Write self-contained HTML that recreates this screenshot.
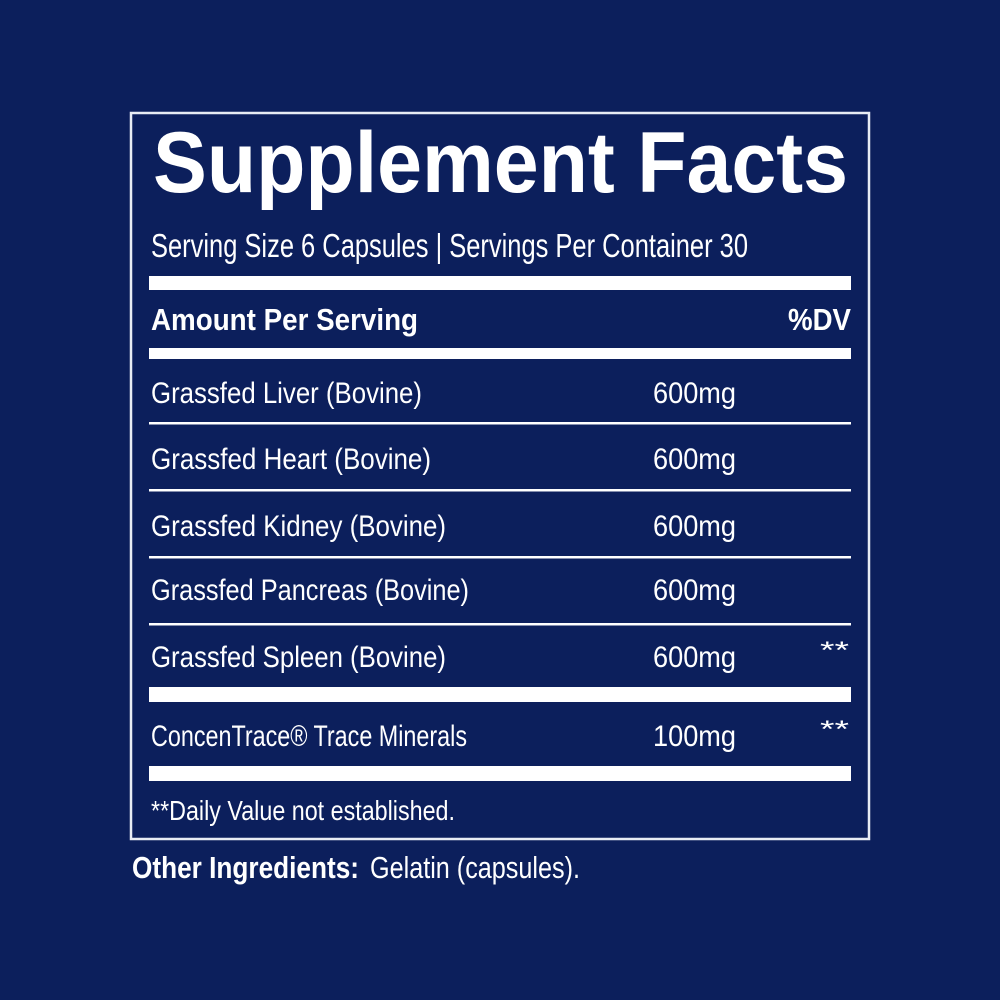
<!DOCTYPE html>
<html><head><meta charset="utf-8"><style>
html,body{margin:0;padding:0;background:#0c1f5c;}
svg{display:block}
text{fill:#fff;font-family:"Liberation Sans",sans-serif;}
</style></head><body>
<svg width="1000" height="1000" viewBox="0 0 1000 1000" xmlns="http://www.w3.org/2000/svg">
<rect width="1000" height="1000" fill="#0c1f5c"/>
<rect x="131" y="113" width="738" height="726" fill="none" stroke="#e8ecf4" stroke-width="2.5"/>
<text x="153" y="192" font-size="86" font-weight="bold" textLength="695" lengthAdjust="spacingAndGlyphs">Supplement Facts</text>
<text x="151" y="257" font-size="33" textLength="597" lengthAdjust="spacingAndGlyphs">Serving Size 6 Capsules | Servings Per Container 30</text>
<rect x="149" y="276" width="702" height="14" fill="#fff"/>
<text x="151" y="330" font-size="31" font-weight="bold" textLength="267" lengthAdjust="spacingAndGlyphs">Amount Per Serving</text>
<text x="788" y="330" font-size="31" font-weight="bold" textLength="63" lengthAdjust="spacingAndGlyphs">%DV</text>
<rect x="149" y="348" width="702" height="11" fill="#fff"/>
<g font-size="30">
<text x="151" y="403" textLength="271" lengthAdjust="spacingAndGlyphs">Grassfed Liver (Bovine)</text>
<text x="653" y="403" textLength="83" lengthAdjust="spacingAndGlyphs">600mg</text>
<rect x="149" y="422" width="702" height="2.5" fill="#fff"/>
<text x="151" y="469" textLength="280" lengthAdjust="spacingAndGlyphs">Grassfed Heart (Bovine)</text>
<text x="653" y="469" textLength="83" lengthAdjust="spacingAndGlyphs">600mg</text>
<rect x="149" y="489" width="702" height="2.5" fill="#fff"/>
<text x="151" y="536" textLength="295" lengthAdjust="spacingAndGlyphs">Grassfed Kidney (Bovine)</text>
<text x="653" y="536" textLength="83" lengthAdjust="spacingAndGlyphs">600mg</text>
<rect x="149" y="556" width="702" height="2.5" fill="#fff"/>
<text x="151" y="600" textLength="318" lengthAdjust="spacingAndGlyphs">Grassfed Pancreas (Bovine)</text>
<text x="653" y="600" textLength="83" lengthAdjust="spacingAndGlyphs">600mg</text>
<rect x="149" y="623" width="702" height="2.5" fill="#fff"/>
<text x="151" y="667" textLength="295" lengthAdjust="spacingAndGlyphs">Grassfed Spleen (Bovine)</text>
<text x="653" y="667" textLength="83" lengthAdjust="spacingAndGlyphs">600mg</text>
<text x="820" y="658" font-size="24" textLength="29" lengthAdjust="spacingAndGlyphs">**</text>
<rect x="149" y="687" width="702" height="15" fill="#fff"/>
<text x="151" y="746" textLength="316" lengthAdjust="spacingAndGlyphs">ConcenTrace® Trace Minerals</text>
<text x="653" y="746" textLength="83" lengthAdjust="spacingAndGlyphs">100mg</text>
<text x="820" y="737" font-size="24" textLength="29" lengthAdjust="spacingAndGlyphs">**</text>
<rect x="149" y="766" width="702" height="15" fill="#fff"/>
</g>
<text x="151" y="820" font-size="28" textLength="304" lengthAdjust="spacingAndGlyphs">**Daily Value not established.</text>
<text x="132" y="878" font-size="31" font-weight="bold" textLength="227" lengthAdjust="spacingAndGlyphs">Other Ingredients:</text>
<text x="370" y="878" font-size="31" textLength="210" lengthAdjust="spacingAndGlyphs">Gelatin (capsules).</text>
</svg>
</body></html>
